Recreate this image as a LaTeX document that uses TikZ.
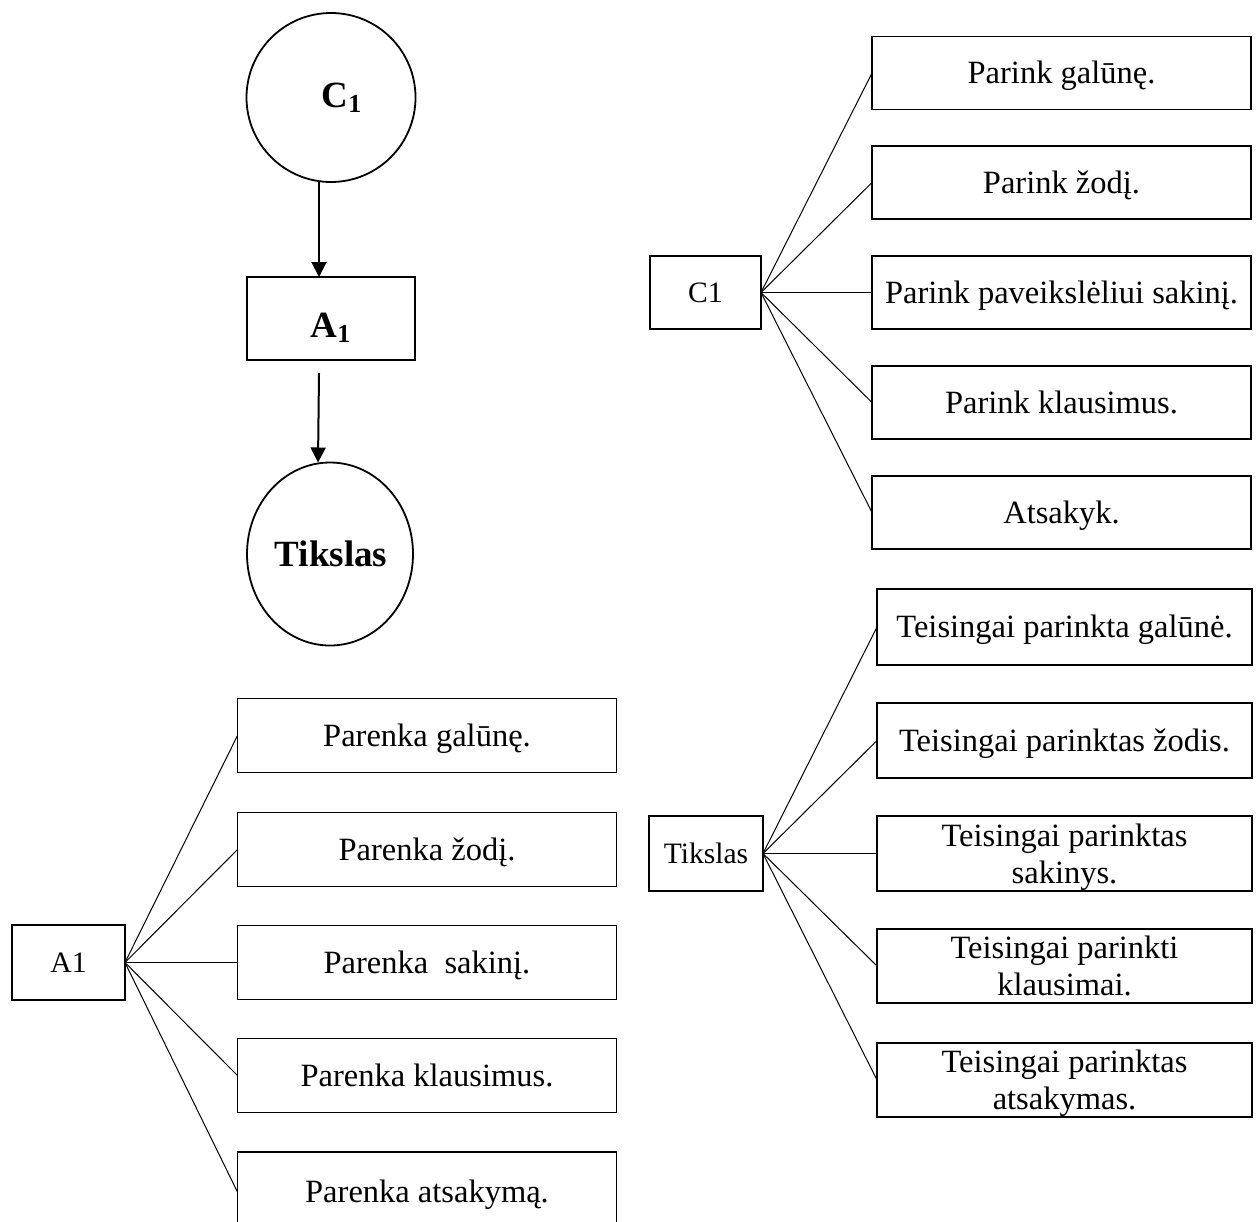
\documentclass[tikz,border=0pt]{standalone}
\usepackage{fontspec}
\setmainfont{Liberation Serif}
\usetikzlibrary{arrows.meta,shapes.geometric}

\begin{document}
\begin{tikzpicture}[x=0.5pt,y=-0.5pt,
  every node/.style={inner sep=0pt,outer sep=0pt},
  bigtitle/.style={font=\fontsize{18.5}{22}\selectfont\bfseries},
  flowcircle/.style={draw,line width=0.9pt,circle,minimum size=84.5pt},
  flowoval/.style={draw,line width=0.9pt,ellipse,minimum width=83pt,minimum height=91.5pt},
  flowbox/.style={draw,line width=0.9pt,minimum width=84pt,minimum height=41.5pt},
  flowarrow/.style={line width=1pt,-{Triangle[length=7.5pt,width=7.5pt]}},
  rootbox/.style={draw,line width=0.8pt,font=\fontsize{14.8}{17}\selectfont,
    text height=9.8pt,text depth=0pt},
  itembox/.style={draw,line width=0.8pt,minimum width=189.5pt,minimum height=37pt,
    font=\fontsize{16.25}{18.5}\selectfont},
  oneline/.style={text height=10.7pt,text depth=0pt},
  twoline/.style={align=center,text depth=0pt},
  branch/.style={line width=0.5pt}]

\useasboundingbox (0,0) rectangle (1256,1221);
\clip (0,0) rectangle (1256,1221);

% ---- flow: C1 -> A1 -> Tikslas ----
\node[flowcircle] (fc) at (331,97.5) {};
\node[bigtitle,anchor=base] (fclabel) at (342,107) {C\textsubscript{1}};
\node[flowbox] (fa) at (331,318.5) {};
\node[bigtitle,anchor=base] (falabel) at (331,337) {A\textsubscript{1}};
\node[flowoval] (ft) at (330,554) {};
\node[bigtitle,anchor=base] (ftlabel) at (331,566) {Tikslas};

\draw[flowarrow] ([xshift=-6pt]fc.south) -- ([xshift=-6pt]fa.north);
\draw[flowarrow] ([xshift=-6pt,yshift=-6.5pt]fa.south) -- ([xshift=-6pt]ft.north);

% ---- C1 tree ----
\node[rootbox,minimum width=55.5pt,minimum height=36.5pt] (c) at (705.5,292.5) {C1};
\node[itembox,oneline,minimum width=189.5pt,minimum height=36.5pt] (c1) at (1061.5,73) {Parink galūnę.};
\node[itembox,oneline,minimum width=189.5pt,minimum height=36.5pt] (c2) at (1061.5,182.5) {Parink žodį.};
\node[itembox,oneline,minimum width=189.5pt,minimum height=36.5pt] (c3) at (1061.5,292.5) {Parink paveikslėliui sakinį.};
\node[itembox,oneline,minimum width=189.5pt,minimum height=36.5pt] (c4) at (1061.5,402.5) {Parink klausimus.};
\node[itembox,oneline,minimum width=189.5pt,minimum height=36.5pt] (c5) at (1061.5,512.5) {Atsakyk.};
\foreach \k in {1,...,5} \draw[branch] (c.east) -- (c\k.west);

% ---- Tikslas tree ----
\node[rootbox,minimum width=57pt,minimum height=37.5pt] (t) at (706,853.5) {Tikslas};
\node[itembox,oneline,minimum width=187.5pt,minimum height=38pt] (t1) at (1064.5,627) {Teisingai parinkta galūnė.};
\node[itembox,oneline,minimum width=187.5pt,minimum height=37.5pt] (t2) at (1064.5,740.5) {Teisingai parinktas žodis.};
\node[itembox,twoline,minimum width=187.5pt,minimum height=37.5pt] (t3) at (1064.5,853.5) {Teisingai parinktas\\sakinys.};
\node[itembox,twoline,minimum width=187.5pt,minimum height=37pt] (t4) at (1064.5,966) {Teisingai parinkti\\klausimai.};
\node[itembox,twoline,minimum width=187.5pt,minimum height=37pt] (t5) at (1064.5,1080) {Teisingai parinktas\\atsakymas.};
\foreach \k in {1,...,5} \draw[branch] (t.east) -- (t\k.west);

% ---- A1 tree ----
\node[rootbox,minimum width=56.5pt,minimum height=37.5pt] (a) at (68.5,962.5) {A1};
\node[itembox,oneline] (a1) at (427,735.5) {Parenka galūnę.};
\node[itembox,oneline] (a2) at (427,849.5) {Parenka žodį.};
\node[itembox,oneline] (a3) at (427,962.5) {Parenka\ \ sakinį.};
\node[itembox,oneline] (a4) at (427,1075.5) {Parenka klausimus.};
\node[itembox,oneline,minimum height=40pt] (a5) at (427,1192) {Parenka atsakymą.};
\foreach \k in {1,...,5} \draw[branch] (a.east) -- (a\k.west);

\end{tikzpicture}
\end{document}
